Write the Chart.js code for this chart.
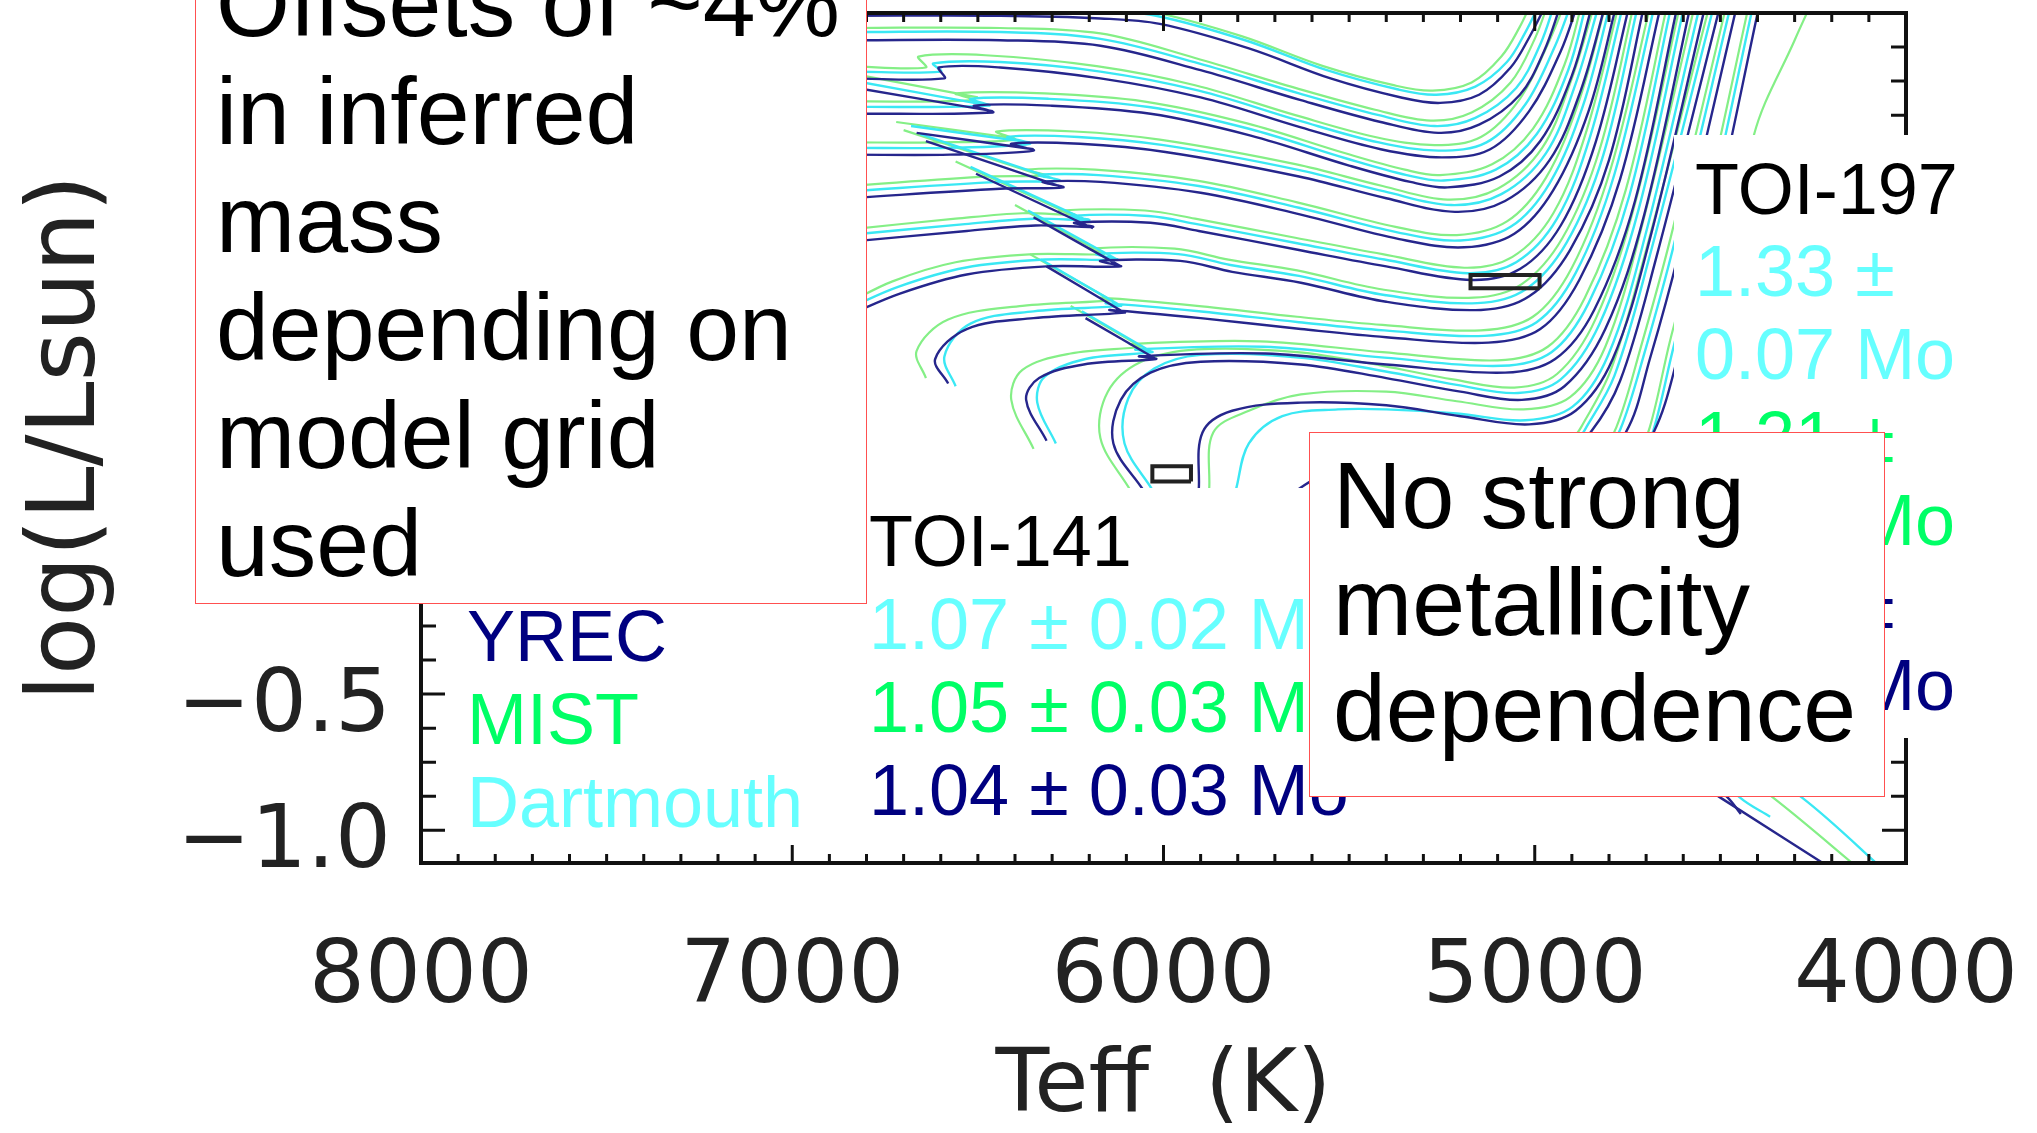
<!DOCTYPE html>
<html>
<head>
<meta charset="utf-8">
<title>TOI-141 / TOI-197 evolutionary tracks</title>
<script src="https://cdn.jsdelivr.net/npm/chart.js@4.4.1/dist/chart.umd.min.js"></script>
<style>
  html, body { margin: 0; padding: 0; background: #fff; overflow: hidden; }
  #wrap { position: relative; width: 2037px; height: 1133px; }
  #hrd { position: absolute; left: 0; top: 0; filter: blur(0.6px); }
  .blank { position: absolute; background: #fff; }
  .note { position: absolute; white-space: pre; font-family: 'Liberation Sans', Arial, sans-serif; color: #000; }
  .box { position: absolute; background: #fff; border: 1.5px solid #ff5050; box-sizing: border-box; }
  .yrec { color: #000080; }
  .mist { color: #00ff66; }
  .dart { color: #66ffff; }
</style>
</head>
<body>
<div id="wrap">
  <canvas id="hrd" width="2037" height="1133"></canvas>

  <!-- backgrounds of the star labels -->
  <div class="blank" style="left:867px; top:488px; width:442px; height:357px;"></div>
  <div class="blank" style="left:1674px; top:135px; width:363px; height:603px;"></div>

  <div class="note" style="left:467px; top:595px; font-size:72px; line-height:83.2px;"><span class="yrec">YREC</span>
<span class="mist">MIST</span>
<span class="dart">Dartmouth</span></div>

  <div class="note" style="left:869px; top:500px; font-size:72px; line-height:83.1px;">TOI-141
<span class="dart">1.07 ± 0.02 Mo</span>
<span class="mist">1.05 ± 0.03 Mo</span>
<span class="yrec">1.04 ± 0.03 Mo</span></div>

  <div class="note" style="left:1695px; top:147.6px; font-size:72px; line-height:82.8px;">TOI-197
<span class="dart">1.33 ±
0.07 Mo</span>
<span class="mist">1.21 ±
0.07 Mo</span>
<span class="yrec">1.24 ±
0.08 Mo</span></div>

  <div class="box" style="left:195px; top:-80px; width:672px; height:684px;"></div>
  <div class="note" style="left:216px; top:-51.4px; font-size:95px; line-height:108px;">Offsets of ~4%
in inferred
mass
depending on
model grid
used</div>

  <div class="box" style="left:1309px; top:432px; width:576px; height:365px;"></div>
  <div class="note" style="left:1333px; top:441.6px; font-size:95px; line-height:106.9px;">No strong
metallicity
dependence</div>
</div>

<script>
// axis ticks
const xTickLabels = [8000, 7000, 6000, 5000, 4000];
const xMinorStep = 100;
const yTickLabels = [-1.0, -0.5, 0.0, 0.5, 1.0, 1.5];
const yMinorStep = 0.125;

// observed stars: Teff, log L and their errors
const starNames = ['TOI-197', 'TOI-141'];
const starTeff = [5080, 5978];
const starTeffErr = [93, 52];
const starLogL = [1.014, 0.308];
const starLogLErr = [0.024, 0.028];

// tracks: [Teff, logL], null = pen up
const yrecTracks = [
  [[6850,1.99],[6440,1.99],[6170,1.98],[6010,1.96],[5770,1.87],[5550,1.76],[5360,1.69],[5255,1.67],[5150,1.70],[5065,1.80],[5015,1.91],[4970,2.03]],
  [[6850,1.90],[6440,1.90],[6170,1.88],[5900,1.79],[5630,1.68],[5415,1.60],[5260,1.56],[5150,1.59],[5040,1.70],[4975,1.86],[4930,2.03]],
  [[6850,1.76],[6590,1.76],[6605,1.80],[6440,1.80],[6170,1.76],[5900,1.69],[5630,1.58],[5415,1.50],[5250,1.47],[5120,1.50],[5015,1.64],[4930,1.86],[4885,2.03]],
  [[6850,1.73],[6460,1.64],null,[6850,1.63],[6460,1.635],[6510,1.66],[6305,1.66],[6035,1.63],[5765,1.55],[5500,1.44],[5335,1.38],[5235,1.36],[5095,1.40],[4985,1.53],[4900,1.77],[4845,2.03]],
  [[6665,1.56],[6350,1.50],null,[6850,1.48],[6575,1.48],[6350,1.495],[6410,1.52],[6225,1.52],[5995,1.49],[5635,1.40],[5400,1.32],[5215,1.27],[5080,1.31],[4960,1.46],[4875,1.72],[4810,2.03]],
  [[6640,1.53],[6270,1.36],null,[6850,1.32],[6440,1.355],[6270,1.36],[6325,1.38],[6170,1.38],[5900,1.34],[5630,1.26],[5365,1.17],[5190,1.14],[5055,1.19],[4950,1.35],[4855,1.64],[4780,2.03]],
  [[6505,1.41],[6190,1.21],null,[6850,1.16],[6530,1.20],[6345,1.22],[6190,1.215],[6240,1.23],[6035,1.23],[5905,1.20],[5635,1.13],[5400,1.07],[5170,1.02],[5040,1.06],[4930,1.22],[4835,1.53],[4745,2.03]],
  [[6350,1.25],[6115,1.07],null,[6850,0.89],[6710,0.97],[6530,1.04],[6315,1.07],[6115,1.07],[6170,1.09],[5955,1.09],[5815,1.05],[5630,1.01],[5400,0.94],[5145,0.91],[5015,0.96],[4905,1.13],[4800,1.46],[4705,2.03]],
  [[6315,1.07],[6105,0.90],null,[6580,0.64],[6615,0.73],[6530,0.84],[6350,0.88],[6105,0.90],[6145,0.91],[5900,0.88],[5630,0.84],[5400,0.81],[5125,0.79],[4985,0.84],[4880,1.02],[4770,1.39],[4660,2.03]],
  [[6210,0.88],[6020,0.73],null,[6315,0.43],[6370,0.58],[6335,0.66],[6215,0.71],[6020,0.73],[6065,0.74],[5725,0.75],[5400,0.71],[5080,0.68],[4945,0.73],[4840,0.91],[4730,1.31],[4615,2.03]],
  [[6055,0.25],[6135,0.42],[6115,0.58],[6035,0.68],[5900,0.72],[5630,0.71],[5400,0.66],[5200,0.61],[5035,0.58],[4920,0.63],[4810,0.84],[4705,1.26],[4580,2.03]],
  [[5905,0.25],[5895,0.46],[5815,0.54],[5630,0.57],[5400,0.56],[5200,0.52],[5015,0.49],[4890,0.54],[4790,0.73],[4690,1.17],[4540,2.03]],
  [[5650,0.24],[5590,0.29],[5400,0.38],[5100,0.40],[4900,0.42],[4850,0.46],[4770,0.65],[4675,1.09],[4500,2.03]],
  [[4178,-1.16],[4500,-0.88],[4700,-0.70],[4900,-0.40],[5000,0.0],[4950,0.30],[4830,0.40],[4755,0.46],[4690,0.73],[4610,1.13],[4455,2.03]],
  [[4445,-0.94],[4480,-0.88],[4620,-0.70],[4800,-0.30],[4820,0.10],[4760,0.35],[4680,0.46],[4610,0.76],[4530,1.17],[4395,2.03]]
];

const dartTracks = [
  [[6850,2.01],[6440,2.02],[6170,2.01],[6020,1.99],[5780,1.90],[5560,1.79],[5370,1.72],[5265,1.70],[5160,1.73],[5075,1.82],[5025,1.93],[4985,2.04]],
  [[6850,1.93],[6440,1.93],[6170,1.905],[5905,1.815],[5635,1.705],[5420,1.625],[5270,1.585],[5160,1.615],[5050,1.725],[4985,1.885],[4945,2.04]],
  [[6850,1.785],[6600,1.785],[6620,1.815],[6440,1.82],[6170,1.785],[5905,1.715],[5635,1.605],[5420,1.525],[5260,1.495],[5130,1.525],[5025,1.665],[4945,1.88],[4900,2.04]],
  [[6850,1.755],[6470,1.66],null,[6850,1.655],[6470,1.66],[6520,1.685],[6310,1.685],[6040,1.655],[5770,1.575],[5505,1.465],[5345,1.405],[5245,1.385],[5105,1.425],[4995,1.555],[4910,1.79],[4860,2.04]],
  [[6680,1.585],[6360,1.525],null,[6850,1.505],[6580,1.505],[6360,1.52],[6420,1.545],[6230,1.545],[6000,1.515],[5640,1.425],[5405,1.345],[5225,1.295],[5090,1.335],[4970,1.485],[4890,1.74],[4825,2.04]],
  [[6655,1.555],[6280,1.385],null,[6850,1.345],[6445,1.38],[6280,1.385],[6335,1.405],[6175,1.405],[5905,1.365],[5635,1.285],[5370,1.195],[5200,1.165],[5065,1.215],[4960,1.375],[4870,1.66],[4795,2.04]],
  [[6520,1.435],[6200,1.235],null,[6850,1.185],[6535,1.225],[6350,1.245],[6200,1.24],[6250,1.255],[6040,1.255],[5910,1.225],[5640,1.155],[5405,1.095],[5180,1.045],[5050,1.085],[4940,1.245],[4850,1.55],[4760,2.04]],
  [[6365,1.275],[6125,1.095],null,[6850,0.915],[6715,0.995],[6535,1.065],[6320,1.095],[6125,1.095],[6180,1.115],[5960,1.115],[5820,1.075],[5635,1.035],[5405,0.965],[5155,0.935],[5025,0.985],[4915,1.155],[4815,1.48],[4720,2.04]],
  [[6330,1.095],[6115,0.925],null,[6560,0.63],[6590,0.74],[6520,0.86],[6350,0.905],[6115,0.925],[6155,0.935],[5905,0.905],[5635,0.865],[5405,0.835],[5135,0.815],[4995,0.865],[4890,1.045],[4785,1.41],[4675,2.04]],
  [[6220,0.905],[6030,0.755],null,[6290,0.42],[6340,0.57],[6320,0.665],[6210,0.73],[6030,0.755],[6075,0.765],[5730,0.775],[5405,0.735],[5090,0.705],[4955,0.755],[4855,0.935],[4745,1.33],[4630,2.04]],
  [[6030,0.25],[6105,0.42],[6095,0.585],[6025,0.695],[5900,0.745],[5635,0.735],[5405,0.685],[5210,0.635],[5045,0.605],[4930,0.655],[4825,0.86],[4720,1.28],[4595,2.04]],
  [[5805,0.25],[5770,0.42],[5680,0.52],[5530,0.545],[5400,0.545],[5210,0.53],[5025,0.505],[4898,0.555],[4802,0.745],[4702,1.185],[4553,2.04]],
  [[4040,-1.17],[4280,-0.88],[4560,-0.62],[4890,-0.28],[4940,0.30],[4865,0.47],[4785,0.67],[4690,1.11],[4515,2.04]],
  [[4366,-0.95],[4447,-0.88],[4650,-0.62],[4840,-0.24],[4840,0.30],[4770,0.47],[4705,0.75],[4625,1.15],[4470,2.04]],
  [[4730,0.30],[4680,0.47],[4625,0.78],[4545,1.19],[4410,2.04]]
];

const mistTracks = [
  [[6850,2.03],[6440,2.035],[6170,2.025],[6030,2.005],[5790,1.915],[5570,1.805],[5380,1.735],[5275,1.715],[5170,1.745],[5090,1.84],[5040,1.95],[5005,2.05]],
  [[6850,1.945],[6440,1.945],[6170,1.925],[5915,1.835],[5645,1.725],[5430,1.645],[5280,1.605],[5170,1.635],[5065,1.745],[5000,1.905],[4960,2.05]],
  [[6850,1.805],[6640,1.80],[6660,1.84],[6480,1.845],[6180,1.805],[5915,1.735],[5645,1.625],[5430,1.545],[5270,1.515],[5145,1.545],[5040,1.685],[4960,1.90],[4915,2.05]],
  [[6850,1.78],[6500,1.69],null,[6850,1.675],[6510,1.68],[6560,1.705],[6320,1.705],[6050,1.675],[5775,1.595],[5510,1.485],[5350,1.425],[5255,1.405],[5115,1.445],[5005,1.575],[4920,1.81],[4870,2.05]],
  [[6720,1.60],[6400,1.54],null,[6850,1.525],[6620,1.525],[6400,1.535],[6450,1.565],[6240,1.565],[6010,1.535],[5645,1.445],[5410,1.365],[5235,1.315],[5100,1.355],[4980,1.505],[4900,1.76],[4835,2.05]],
  [[6700,1.57],[6320,1.40],null,[6850,1.365],[6470,1.40],[6320,1.405],[6370,1.425],[6185,1.425],[5910,1.385],[5640,1.305],[5375,1.215],[5210,1.185],[5075,1.235],[4970,1.395],[4880,1.68],[4805,2.05]],
  [[6560,1.455],[6240,1.255],null,[6850,1.205],[6560,1.245],[6380,1.265],[6240,1.26],[6280,1.275],[6050,1.275],[5915,1.245],[5645,1.175],[5410,1.115],[5190,1.065],[5060,1.105],[4950,1.265],[4860,1.57],[4770,2.05]],
  [[6400,1.295],[6160,1.115],null,[6850,0.935],[6730,1.015],[6560,1.085],[6350,1.115],[6160,1.115],[6200,1.135],[5970,1.135],[5825,1.095],[5640,1.055],[5410,0.985],[5165,0.955],[5035,1.005],[4925,1.175],[4825,1.50],[4730,2.05]],
  [[6360,1.115],[6140,0.945],null,[6640,0.66],[6665,0.76],[6580,0.875],[6380,0.925],[6140,0.945],[6170,0.955],[5910,0.925],[5640,0.885],[5410,0.855],[5145,0.835],[5005,0.885],[4900,1.065],[4795,1.43],[4685,2.05]],
  [[6250,0.925],[6060,0.775],null,[6350,0.40],[6410,0.58],[6380,0.69],[6250,0.75],[6060,0.775],[6090,0.785],[5740,0.795],[5410,0.755],[5100,0.725],[4965,0.775],[4865,0.955],[4755,1.35],[4640,2.05]],
  [[6090,0.25],[6170,0.44],[6150,0.61],[6060,0.72],[5910,0.765],[5640,0.755],[5410,0.705],[5220,0.655],[5055,0.625],[4940,0.675],[4835,0.88],[4730,1.30],[4605,2.05]],
  [[5877,0.25],[5866,0.46],[5770,0.54],[5630,0.60],[5400,0.61],[5210,0.575],[5030,0.545],[4905,0.59],[4810,0.775],[4712,1.215],[4565,2.05]],
  [[4110,-1.16],[4358,-0.88],[4600,-0.64],[4880,-0.27],[4950,0.31],[4875,0.48],[4795,0.69],[4700,1.13],[4525,2.05]],
  [[4850,0.31],[4780,0.48],[4715,0.77],[4635,1.17],[4480,2.05]],
  [[4740,0.31],[4690,0.48],[4635,0.80],[4555,1.21],[4420,2.05]],
  [[4560,0.31],[4520,0.60],[4470,1.00],[4410,1.55],[4300,1.90],[4250,2.05]]
];

const models = [
  { name: 'MIST', tracks: mistTracks, color: '#84ef86', width: 2.2, order: 3 },
  { name: 'Dartmouth', tracks: dartTracks, color: '#3ae8f4', width: 2.4, order: 2 },
  { name: 'YREC', tracks: yrecTracks, color: '#26268c', width: 2.4, order: 1 }
];

const datasets = [];
models.forEach(m => {
  m.tracks.forEach((trk, i) => {
    datasets.push({
      label: m.name + ' ' + (i + 1),
      data: trk.map(p => p ? { x: p[0], y: p[1] } : { x: null, y: null }),
      showLine: true,
      spanGaps: false,
      borderColor: m.color,
      borderWidth: m.width,
      pointRadius: 0,
      tension: 0.35,
      order: m.order
    });
  });
});

// error boxes for the two stars
starNames.forEach((nm, i) => {
  const t0 = starTeff[i] - starTeffErr[i], t1 = starTeff[i] + starTeffErr[i];
  const l0 = starLogL[i] - starLogLErr[i], l1 = starLogL[i] + starLogLErr[i];
  datasets.push({
    label: nm,
    data: [{x:t0,y:l0},{x:t1,y:l0},{x:t1,y:l1},{x:t0,y:l1},{x:t0,y:l0}],
    showLine: true,
    borderColor: '#222',
    borderWidth: 4,
    borderJoinStyle: 'miter',
    pointRadius: 0,
    tension: 0,
    order: 0
  });
});

// IDL style box with inward ticks on all four sides
const idlFrame = {
  id: 'idlFrame',
  afterDatasetsDraw(chart) {
    const { ctx, chartArea: a, scales: { x, y } } = chart;
    ctx.save();
    ctx.strokeStyle = '#111';
    ctx.lineWidth = 3;
    ctx.beginPath();
    for (let t = x.min; t <= x.max; t += xMinorStep) {
      const px = x.getPixelForValue(t);
      const len = t % 1000 === 0 ? 18 : 9;
      ctx.moveTo(px, a.bottom); ctx.lineTo(px, a.bottom - len);
      ctx.moveTo(px, a.top); ctx.lineTo(px, a.top + len);
    }
    for (let v = yTickLabels[0]; v <= y.max + 1e-9; v += yMinorStep) {
      const py = y.getPixelForValue(v);
      const major = Math.abs(v * 2 - Math.round(v * 2)) < 1e-9;
      const len = major ? 24 : 15;
      ctx.moveTo(a.left, py); ctx.lineTo(a.left + len, py);
      ctx.moveTo(a.right, py); ctx.lineTo(a.right - len, py);
    }
    ctx.stroke();
    ctx.lineWidth = 4;
    ctx.strokeRect(a.left, a.top, a.right - a.left, a.bottom - a.top);
    ctx.restore();
  }
};

Chart.defaults.font.family = "'DejaVu Sans', sans-serif";

new Chart(document.getElementById('hrd'), {
  type: 'scatter',
  data: { datasets },
  options: {
    responsive: false,
    animation: false,
    devicePixelRatio: 1,
    layout: { padding: { left: 0, right: 131, top: 13, bottom: 0 } },
    plugins: { legend: { display: false }, tooltip: { enabled: false } },
    scales: {
      x: {
        type: 'linear', min: 4000, max: 8000, reverse: true,
        grid: { display: false }, border: { display: false },
        afterBuildTicks: s => { s.ticks = xTickLabels.map(v => ({ value: v })); },
        afterFit: s => { s.height = 270; s.paddingLeft = 0; s.paddingRight = 0; },
        ticks: { font: { size: 88 }, color: '#222', padding: 55, maxRotation: 0, autoSkip: false,
                 callback: v => String(v) },
        title: { display: true, text: 'Teff  (K)', font: { size: 88 }, color: '#222', padding: { top: 0, bottom: -8 } }
      },
      y: {
        type: 'linear', min: -1.12, max: 2.0,
        grid: { display: false }, border: { display: false },
        afterBuildTicks: s => { s.ticks = yTickLabels.map(v => ({ value: v })); },
        afterFit: s => { s.width = 421; s.paddingTop = 0; s.paddingBottom = 0; },
        ticks: { font: { size: 88 }, color: '#222', padding: 22, labelOffset: 14, autoSkip: false,
                 callback: v => (v < 0 ? '\u2212' : '') + Math.abs(v).toFixed(1) },
        title: { display: true, text: 'log(L/Lsun)', font: { size: 95 }, color: '#222', padding: { top: 12, bottom: 0 } }
      }
    }
  },
  plugins: [idlFrame]
});
</script>
</body>
</html>
